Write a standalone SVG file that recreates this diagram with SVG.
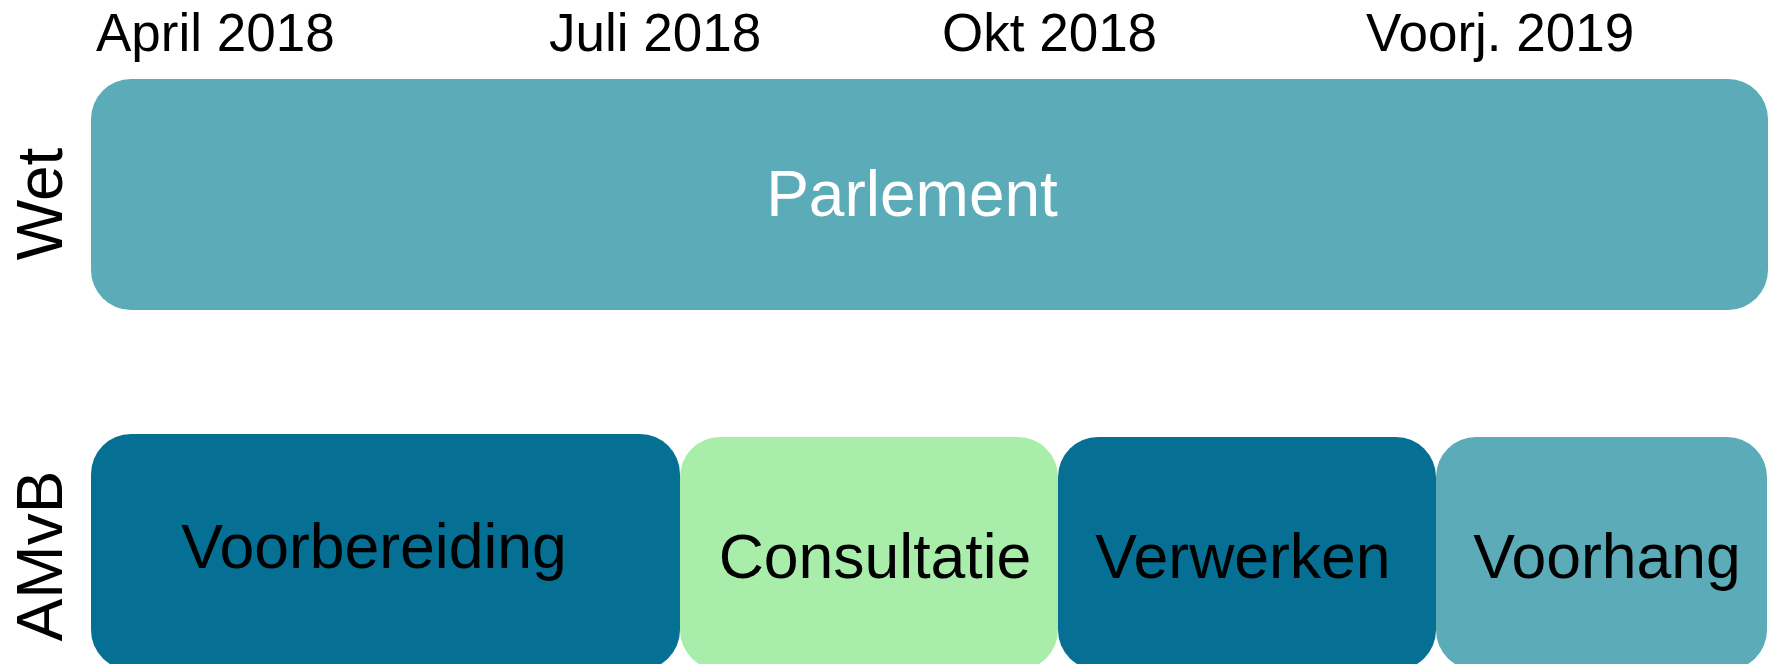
<svg xmlns="http://www.w3.org/2000/svg" width="1775" height="664" viewBox="0 0 1775 664">
<style>
.lbl{font-family:"Liberation Sans",Arial,sans-serif;fill:#000}
.date{font-size:53px}
.row{font-size:64px}
.node text{font-family:"Liberation Sans",Arial,sans-serif;font-size:62.5px;text-anchor:middle}
.teal{fill:#5BABB8}
.dark{fill:#056F94}
.green{fill:#A8EDAA}
</style>
<rect width="1775" height="664" fill="#fff"/>
<g id="dates" class="lbl date">
<text x="96" y="51">April 2018</text>
<text x="549" y="51">Juli 2018</text>
<text x="942" y="51">Okt 2018</text>
<text x="1366" y="51">Voorj. 2019</text>
</g>
<g id="rowlabels" class="lbl row">
<text transform="translate(62,204) rotate(-90)" text-anchor="middle">Wet</text>
<text transform="translate(62,556) rotate(-90)" text-anchor="middle">AMvB</text>
</g>
<g id="parlement" class="node">
<rect class="teal" x="91" y="79" width="1677" height="231" rx="40" ry="40"/>
<text x="912" y="216" fill="#fff" style="font-size:64px">Parlement</text>
</g>
<g id="voorbereiding" class="node">
<rect class="dark" x="91" y="434" width="589" height="236" rx="40" ry="40"/>
<text x="374" y="568">Voorbereiding</text>
</g>
<g id="consultatie" class="node">
<rect class="green" x="680" y="437" width="378" height="233" rx="40" ry="40"/>
<text x="875" y="578">Consultatie</text>
</g>
<g id="verwerken" class="node">
<rect class="dark" x="1058" y="437" width="378" height="233" rx="40" ry="40"/>
<text x="1243" y="578">Verwerken</text>
</g>
<g id="voorhang" class="node">
<rect class="teal" x="1436" y="437" width="331" height="233" rx="40" ry="40"/>
<text x="1607" y="578">Voorhang</text>
</g>
<g id="connectors"/>
</svg>
